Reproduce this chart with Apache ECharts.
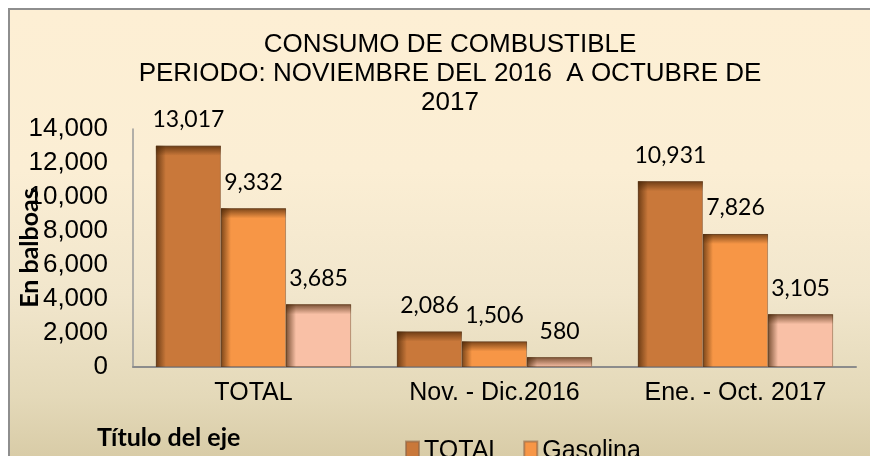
<!DOCTYPE html>
<html>
<head>
<meta charset="utf-8">
<script src="https://cdn.jsdelivr.net/npm/echarts@6/dist/echarts.min.js"></script>
<style>
  html, body { margin: 0; padding: 0; background: #fff; overflow: hidden; }
  #wrap { position: relative; width: 870px; height: 456px; overflow: hidden; }
  #fondo {
    position: absolute; left: 8px; top: 8px; width: 880px; height: 460px;
    border-left: 2px solid #8e8e8e; border-top: 2px solid #8e8e8e;
    background: linear-gradient(to bottom, #fdefd4 0%, #fbeed4 35%, #f1e6cc 62%, #e4d9b9 84%, #d6c9a3 100%);
  }
  #chart { position: absolute; left: 0; top: 0; width: 870px; height: 456px; }
</style>
</head>
<body>
<div id="wrap">
  <div id="fondo"></div>
  <div id="chart"></div>
</div>
<script>
// datos del grafico
const categorias = ["TOTAL", "Nov. - Dic.2016", "Ene. - Oct. 2017"];
const nombresSeries = ["TOTAL", "Gasolina", "Diesel"];
const valoresTotal = [13017, 2086, 10931];
const valoresGasolina = [9332, 1506, 7826];
const valoresDiesel = [3685, 580, 3105];
const ejeY = { min: 0, max: 14000, intervalo: 2000 };

const colores = ["#c9783a", "#f79646", "#f9c0a6"];
const GAP_CAT = 0.19;
const fmt = v => Number(v).toLocaleString("en-US");

const series = [valoresTotal, valoresGasolina, valoresDiesel];

// datos para la sombra interior (efecto bisel de excel)
const datosSombra = [];
series.forEach((vals, si) => {
  vals.forEach((v, ci) => datosSombra.push([ci, v, si]));
});

function sombra(params, api) {
  const ci = api.value(0), v = api.value(1), si = api.value(2);
  const pTop = api.coord([ci, v]);
  const pBase = api.coord([ci, 0]);
  const banda = api.size([1, 0])[0];
  const ancho = banda * (1 - GAP_CAT) / 3;
  const x0 = pTop[0] - banda * (1 - GAP_CAT) / 2 + si * ancho;
  const h = pBase[1] - pTop[1];
  const oscuro = "rgba(70,35,5,0.7)";
  const claro = "rgba(70,35,5,0)";
  return {
    type: "group",
    children: [
      {
        type: "rect",
        shape: { x: x0, y: pTop[1], width: Math.min(10, ancho), height: h },
        style: { fill: new echarts.graphic.LinearGradient(0, 0, 1, 0, [
          { offset: 0, color: oscuro }, { offset: 1, color: claro }]) }
      },
      {
        type: "rect",
        shape: { x: x0, y: pTop[1], width: ancho, height: Math.min(10, h) },
        style: { fill: new echarts.graphic.LinearGradient(0, 0, 0, 1, [
          { offset: 0, color: oscuro }, { offset: 1, color: claro }]) }
      }
    ]
  };
}

const chart = echarts.init(document.getElementById("chart"));

const barras = series.map((vals, i) => ({
  name: nombresSeries[i],
  type: "bar",
  data: vals,
  barGap: "0%",
  barCategoryGap: (GAP_CAT * 100) + "%",
  itemStyle: { color: colores[i], borderColor: "rgba(140,100,70,0.6)", borderWidth: 1 },
  label: {
    show: true,
    position: "top",
    distance: 12,
    formatter: p => fmt(p.value),
    color: "#000",
    fontFamily: "Lato",
    fontSize: 23,
    lineHeight: 28
  }
}));

chart.setOption({
  animation: false,
  title: {
    text: "CONSUMO DE COMBUSTIBLE\nPERIODO: NOVIEMBRE DEL 2016  A OCTUBRE DE\n2017",
    left: 450,
    top: 30,
    padding: 0,
    textAlign: "center",
    textStyle: {
      fontFamily: "Liberation Sans",
      fontWeight: "normal",
      fontSize: 26,
      lineHeight: 29,
      color: "#000"
    }
  },
  legend: {
    data: ["TOTAL", "Gasolina"],
    left: 405,
    top: 439,
    padding: 0,
    icon: "rect",
    itemWidth: 13,
    itemHeight: 20,
    itemGap: 21,
    textStyle: { fontFamily: "Liberation Sans", fontSize: 25, color: "#000" }
  },
  grid: { left: 133, right: 14, top: 129, bottom: 89, containLabel: false, outerBoundsMode: "none" },
  xAxis: {
    type: "category",
    data: categorias,
    axisLine: { lineStyle: { color: "#8c8c8c", width: 2 } },
    axisTick: { show: false },
    axisLabel: { color: "#000", fontFamily: "Liberation Sans", fontSize: 25, margin: 14 }
  },
  yAxis: {
    type: "value",
    min: ejeY.min,
    max: ejeY.max,
    interval: ejeY.intervalo,
    name: "En balboas",
    nameLocation: "middle",
    nameGap: 91,
    nameRotate: 90,
    nameMoveOverlap: false,
    nameTextStyle: { color: "#000", fontFamily: "Lato", fontWeight: "bold", fontSize: 25 },
    axisLine: { show: true, lineStyle: { color: "#9a9a9a", width: 1.5 } },
    axisTick: { show: false },
    splitLine: { show: false },
    axisLabel: { color: "#000", fontFamily: "Liberation Sans", fontSize: 26, margin: 25, formatter: fmt }
  },
  graphic: [{
    type: "text",
    left: 97,
    top: 425,
    style: { text: "Título del eje", font: "bold 25px Lato", fill: "#000" }
  }],
  series: barras.concat([{
    type: "custom",
    name: "sombra",
    silent: true,
    z: 3,
    renderItem: sombra,
    encode: { x: 0, y: 1 },
    data: datosSombra
  }])
});
</script>
</body>
</html>
